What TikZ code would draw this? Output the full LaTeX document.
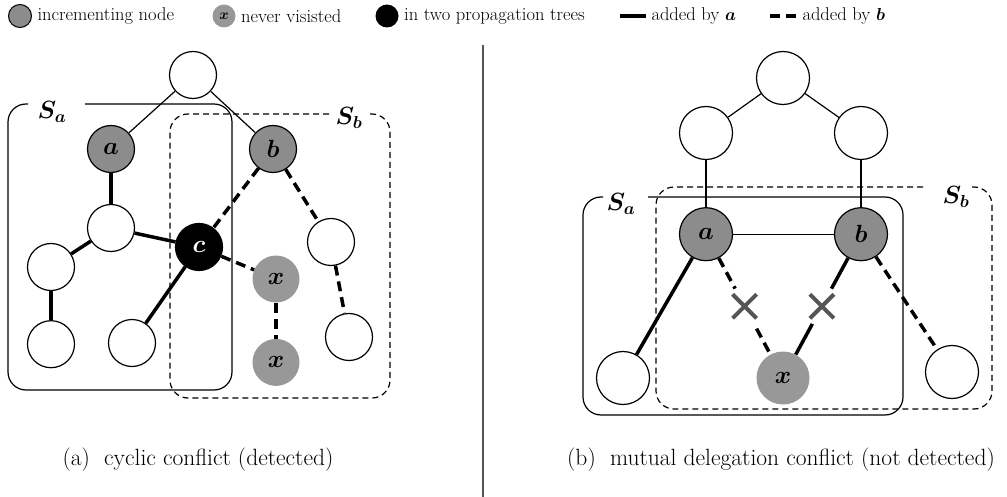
\documentclass[tikz,border=0pt]{standalone}
\usepackage{amsmath}
\usetikzlibrary{positioning,calc}
\definecolor{incgray}{RGB}{140,140,140}
\definecolor{nvgray}{RGB}{152,152,152}
\definecolor{xgray}{RGB}{85,85,85}
\newcommand\legfont{\fontsize{18.5}{21}\selectfont}
\newcommand\capfont{\fontsize{23.5}{26}\selectfont}
\tikzset{
  main/.style={circle, minimum size=47pt, inner sep=0pt, draw=black, line width=1.2pt, fill=white, font=\fontsize{34}{36}\selectfont\boldmath},
  big/.style={main, minimum size=53pt},
  inc/.style={fill=incgray},
  never/.style={circle, minimum size=47pt, inner sep=0pt, fill=nvgray, font=\fontsize{34}{36}\selectfont\boldmath},
  both/.style={fill=black, text=white},
  link/.style={line width=1.2pt},
  connect/.style={line width=3.5pt},
  dconnect/.style={line width=3.5pt, dash pattern=on 10pt off 6pt},
  setbox/.style={line width=1.2pt, rounded corners=18pt},
  setlabel/.style={font=\fontsize{27}{29}\selectfont\boldmath},
  xmark/.style={circle, fill=white, minimum size=40pt, inner sep=0pt,
    path picture={\draw[xgray, solid, line width=4pt]
      ([shift={(-12pt,-12pt)}]path picture bounding box.center) -- ([shift={(12pt,12pt)}]path picture bounding box.center)
      ([shift={(-12pt,12pt)}]path picture bounding box.center) -- ([shift={(12pt,-12pt)}]path picture bounding box.center);}}
}

\begin{document}
\begin{tikzpicture}[x=1pt,y=-1pt]
    \useasboundingbox (0,0) rectangle (1007,497);

    % legend
    \node[main,inc,minimum size=23pt,line width=1pt] (lg1) at (20,16) {};
    \node[right=2pt of lg1,font=\legfont] (lt1) {incrementing node};
    \node[never,minimum size=23pt,font=\fontsize{15}{16}\selectfont\boldmath] (lg2) at (224,16) {$x$};
    \node[right=2pt of lg2,font=\legfont] (lt2) {never visisted};
    \node[circle,fill=black,minimum size=23pt] (lg3) at (387,16) {};
    \node[right=2pt of lg3,font=\legfont] (lt3) {in two propagation trees};
    \coordinate (la1) at (620,16);
    \coordinate (la2) at (646,16);
    \draw[connect] (la1) -- (la2);
    \node[right=2pt of la2,font=\legfont] (lt4) {added by $\boldsymbol{a}$};
    \coordinate (lb1) at (770,16);
    \coordinate (lb2) at (797,16);
    \draw[dconnect] (lb1) -- (lb2);
    \node[right=2pt of lb2,font=\legfont] (lt5) {added by $\boldsymbol{b}$};

    % (a) cyclic conflict
    \draw[setbox] (85,104) -- (232,104) -- (232,390) -- (8,390) -- (8,104) -- (28,104);
    \draw[setbox,dash pattern=on 6pt off 4pt] (370,114) -- (390,114) -- (390,398) -- (170,398) -- (170,114) -- (330,114);
    \node[setlabel] (SaL) at (52,112) {$S_a$};
    \node[setlabel] (SbL) at (349,118) {$S_b$};

    \node[main] (root) at (193,75) {};
    \node[main,inc] (a) at (111,149) {$a$};
    \node[main,inc] (b) at (273,149) {$b$};
    \node[main] (m) at (111,228) {};
    \node[main] (l) at (51,267) {};
    \node[main] (ll) [below=29pt of l] {};
    \node[main] (lm) at (132,343) {};
    \node[main,both] (c) at (199,247) {$c$};
    \node[never] (x1) at (276,279) {$x$};
    \node[never] (x2) [below=36pt of x1] {$x$};
    \node[main] (r) at (331,242) {};
    \node[main] (rr) at (349,337) {};

    \path (root) edge [link] (a)
          (root) edge [link] (b);
    \path (a) edge [connect] (m)
          (m) edge [connect] (l)
          (l) edge [connect] (ll)
          (m) edge [connect] (c)
          (c) edge [connect] (lm);
    \path (b) edge [dconnect] (c)
          (c) edge [dconnect] (x1)
          (x1) edge [dconnect] (x2)
          (b) edge [dconnect] (r)
          (r) edge [dconnect] (rr);

    \node[font=\capfont] (capA) at (198,460) {(a)~~cyclic conflict (detected)};

    % separator
    \coordinate (sepT) at (483,45);
    \coordinate (sepB) at (483,497);
    \draw[line width=2pt, xgray] (sepT) -- (sepB);

    % (b) mutual delegation conflict
    \draw[setbox] (648,197) -- (903,197) -- (903,415) -- (583,415) -- (583,197) -- (603,197);
    \draw[setbox,dash pattern=on 6pt off 4pt] (972,187) -- (992,187) -- (992,409) -- (656,409) -- (656,187) -- (927,187);
    \node[setlabel] (SaR) at (621,204) {$S_a$};
    \node[setlabel] (SbR) at (956,197) {$S_b$};

    \node[big] (top) at (783,78) {};
    \node[big] (ul) at (706,133) {};
    \node[big] (ur) at (861,133) {};
    \node[big,inc] (ra) [below=47pt of ul] {$a$};
    \node[big,inc] (rb) [below=47pt of ur] {$b$};
    \node[big] (bl) at (623,378) {};
    \node[never,minimum size=53pt] (rx) at (783,378) {$x$};
    \node[big] (br) at (952,372) {};

    \path (top) edge [link] (ul)
          (top) edge [link] (ur)
          (ul) edge [link] (ra)
          (ur) edge [link] (rb)
          (ra) edge [link] (rb);
    \path (ra) edge [connect] (bl)
          (rb) edge [dconnect] (br);
    \path (ra) edge [dconnect] node[xmark,midway] {} (rx)
          (rb) edge [connect] node[xmark,midway] {} (rx);

    \node[font=\capfont] (capB) at (781,460) {(b)~~mutual delegation conflict (not detected)};
\end{tikzpicture}
\end{document}
